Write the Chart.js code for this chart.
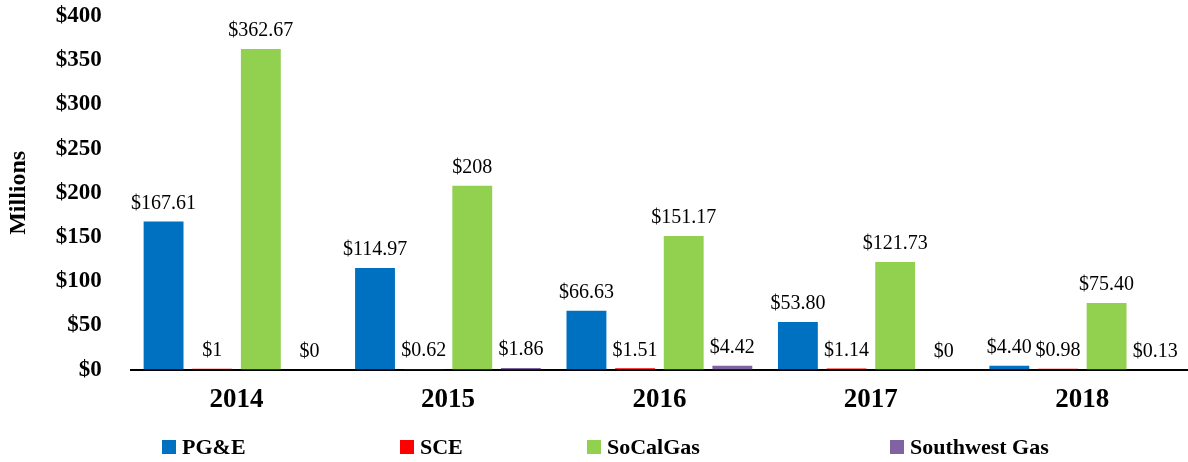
<!DOCTYPE html>
<html>
<head>
<meta charset="utf-8">
<script src="https://cdn.jsdelivr.net/npm/chart.js@4"></script>
<style>
  body { margin: 0; background: #fff; }
  #wrap { position: relative; width: 1188px; height: 462px; }
  #legend { position: absolute; left: 0; top: 433px; width: 1188px; height: 28px;
    font: bold 22px "Liberation Serif", serif; color: #000; }
  .item { position: absolute; top: 0; display: flex; align-items: center; height: 28px; white-space: nowrap; }
  .box { width: 14px; height: 14px; margin-right: 6px; }
</style>
</head>
<body>
<div id="wrap">
  <canvas id="chart" width="1188" height="462"></canvas>
  <div id="legend"></div>
</div>
<script>
let years = ['2014', '2015', '2016', '2017', '2018']

let pgeValues = [167.61, 114.97, 66.63, 53.80, 4.40]
let sceValues = [1, 0.62, 1.51, 1.14, 0.98]
let socalValues = [362.67, 208, 151.17, 121.73, 75.40]
let swgasValues = [0, 1.86, 4.42, 0, 0.13]

let pgeLabels = ['$167.61', '$114.97', '$66.63', '$53.80', '$4.40']
let sceLabels = ['$1', '$0.62', '$1.51', '$1.14', '$0.98']
let socalLabels = ['$362.67', '$208', '$151.17', '$121.73', '$75.40']
let swgasLabels = ['$0', '$1.86', '$4.42', '$0', '$0.13']

let yTicks = [0, 50, 100, 150, 200, 250, 300, 350, 400]

const COLORS = {
    blue: '#0070C0',
    red: '#FF0000',
    green: '#92D050',
    purple: '#8064A2'
}

const FONT = '"Liberation Serif", serif'

// legend box x positions, copied from the Excel layout
const legendLeft = [162, 400, 587, 890]

let barData = {
    labels: years,
    datasets: [
        { label: 'PG&E', data: pgeValues, backgroundColor: COLORS.blue, valueLabels: pgeLabels },
        { label: 'SCE', data: sceValues, backgroundColor: COLORS.red, valueLabels: sceLabels },
        { label: 'SoCalGas', data: socalValues, backgroundColor: COLORS.green, valueLabels: socalLabels },
        { label: 'Southwest Gas', data: swgasValues, backgroundColor: COLORS.purple, valueLabels: swgasLabels }
    ]
}

// draws the "$xx" text over each bar
const valueLabelPlugin = {
    id: 'valueLabels',
    afterDatasetsDraw(chart) {
        let ctx = chart.ctx
        ctx.save()
        ctx.font = '20px ' + FONT
        ctx.fillStyle = '#000'
        ctx.textAlign = 'center'
        ctx.textBaseline = 'bottom'
        chart.data.datasets.forEach((ds, i) => {
            let meta = chart.getDatasetMeta(i)
            meta.data.forEach((bar, j) => {
                ctx.fillText(ds.valueLabels[j], bar.x, bar.y - 8)
            })
        })
        ctx.restore()
    }
}

let ctx = document.getElementById('chart')
let chart = new Chart(ctx, {
    type: 'bar',
    data: barData,
    plugins: [valueLabelPlugin],
    options: {
        responsive: false,
        animation: false,
        layout: { padding: { left: 2, top: 6, right: 0, bottom: 40 } },
        datasets: {
            bar: { categoryPercentage: 0.92, barPercentage: 0.82 }
        },
        plugins: {
            legend: { display: false },
            tooltip: { enabled: false }
        },
        scales: {
            x: {
                grid: { display: false },
                border: { display: true, color: '#000', width: 2 },
                ticks: { color: '#000', padding: 6, font: { family: FONT, size: 27, weight: 'bold' } }
            },
            y: {
                min: 0,
                max: 400,
                afterBuildTicks: (axis) => { axis.ticks = yTicks.map(v => ({ value: v })) },
                // tick padding is only meant to be horizontal here
                afterFit: (axis) => { axis.paddingTop = 16; axis.paddingBottom = 0 },
                grid: { display: false },
                border: { display: false },
                ticks: {
                    color: '#000',
                    padding: 21,
                    font: { family: FONT, size: 23, weight: 'bold' },
                    callback: (v) => '$' + v
                },
                title: {
                    display: true,
                    text: 'Millions',
                    color: '#000',
                    padding: { top: 2, bottom: 2 },
                    font: { family: FONT, size: 24, weight: 'bold' }
                }
            }
        }
    }
})

let legendEl = document.getElementById('legend')
barData.datasets.forEach((ds, i) => {
    let item = document.createElement('div')
    item.className = 'item'
    item.style.left = legendLeft[i] + 'px'
    item.innerHTML = `<span class="box" style="background:${ds.backgroundColor}"></span><span>${ds.label}</span>`
    legendEl.appendChild(item)
})
</script>
</body>
</html>
